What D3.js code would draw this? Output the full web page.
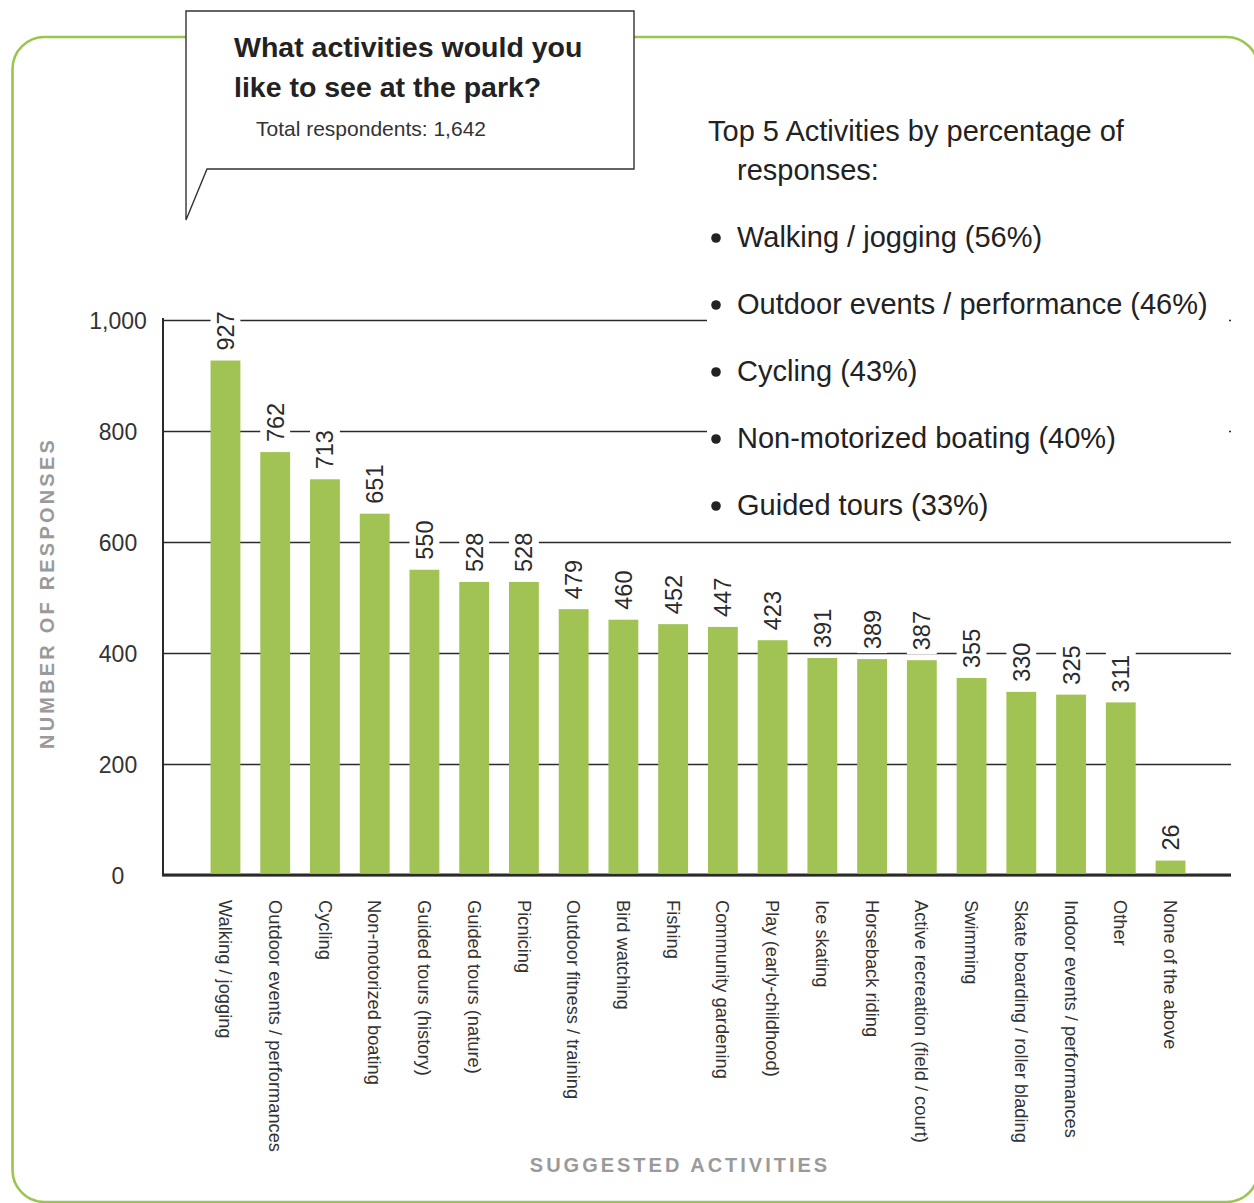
<!DOCTYPE html>
<html>
<head>
<meta charset="utf-8">
<script src="https://cdn.jsdelivr.net/npm/d3@7"></script>
<style>
  html, body { margin: 0; padding: 0; background: #fff; }
  svg { display: block; font-family: "Liberation Sans", Arial, Helvetica, sans-serif; }
</style>
</head>
<body>
<svg id="chart" width="1254" height="1203"></svg>
<script>
const categories = [
  "Walking / jogging", "Outdoor events / performances", "Cycling", "Non-motorized boating",
  "Guided tours (history)", "Guided tours (nature)", "Picnicing", "Outdoor fitness / training",
  "Bird watching", "Fishing", "Community gardening", "Play (early-childhood)", "Ice skating",
  "Horseback riding", "Active recreation (field / court)", "Swimming",
  "Skate boarding / roller blading", "Indoor events / performances", "Other", "None of the above"
];
const values = [927, 762, 713, 651, 550, 528, 528, 479, 460, 452, 447, 423, 391, 389, 387, 355, 330, 325, 311, 26];
const yTicks = [0, 200, 400, 600, 800, 1000];
const titleLines = ["What activities would you", "like to see at the park?"];
const subtitle = "Total respondents: 1,642";
const legendTitle = ["Top 5 Activities by percentage of", "responses:"];
const top5 = [
  "Walking / jogging (56%)", "Outdoor events / performance (46%)", "Cycling (43%)",
  "Non-motorized boating (40%)", "Guided tours (33%)"
];
const yAxisTitle = "NUMBER OF RESPONSES";
const xAxisTitle = "SUGGESTED ACTIVITIES";

(function () {
const svg = d3.select("#chart");
const GREEN = "#a0c353";
const INK = "#2a2a2a";

// outer rounded border
svg.append("rect")
  .attr("x", 12.5).attr("y", 37).attr("width", 1246).attr("height", 1165)
  .attr("rx", 32).attr("ry", 32)
  .attr("fill", "none").attr("stroke", "#9cc54f").attr("stroke-width", 2.6);

// plot geometry
const pLeft = 163, pRight = 1231, pTop = 320, pBottom = 875;
const y = d3.scaleLinear().domain([0, 1000]).range([pBottom, pTop]);
const x = d3.scaleBand().domain(categories).range([200.6, 1195.4]).paddingInner(0.4).paddingOuter(0.2);

// gridlines + tick labels via axis
const yAxis = d3.axisLeft(y).tickValues(yTicks).tickFormat(d3.format(",")).tickSize(-(pRight - pLeft)).tickPadding(0);
const gy = svg.append("g").attr("transform", `translate(${pLeft},0)`).call(yAxis);
gy.select(".domain").remove();
gy.selectAll(".tick line").attr("stroke", INK).attr("stroke-width", 1.3);
gy.selectAll(".tick text")
  .attr("x", 118 - pLeft).attr("text-anchor", "middle").attr("dy", "0.35em")
  .attr("font-size", 23).attr("fill", "#333")
  .attr("font-family", "'Liberation Sans', Arial, sans-serif");

// legend background hides gridlines
svg.append("rect").attr("x", 707).attr("y", 100).attr("width", 522).attr("height", 430).attr("fill", "#fff");

// y axis line and baseline
svg.append("line").attr("x1", pLeft).attr("x2", pLeft).attr("y1", pTop - 2).attr("y2", pBottom)
  .attr("stroke", INK).attr("stroke-width", 2);
svg.append("line").attr("x1", pLeft - 1).attr("x2", pRight).attr("y1", pBottom).attr("y2", pBottom)
  .attr("stroke", INK).attr("stroke-width", 3);

// bars
svg.append("g").selectAll("rect").data(values).join("rect")
  .attr("x", (d, i) => x(categories[i]))
  .attr("y", d => y(d))
  .attr("width", x.bandwidth())
  .attr("height", d => pBottom - 1.5 - y(d))
  .attr("fill", GREEN);

// value labels with white backgrounds
const lg = svg.append("g");
values.forEach((v, i) => {
  const cx = x(categories[i]) + x.bandwidth() / 2;
  const y0 = y(v) - 10;
  const bg = lg.append("rect").attr("fill", "#fff");
  const t = lg.append("text")
    .attr("transform", `translate(${cx},${y0}) rotate(-90)`)
    .attr("dy", "0.36em")
    .attr("font-size", 23.5).attr("fill", INK)
    .text(v);
  const w = t.node().getComputedTextLength();
  bg.attr("x", x(categories[i])).attr("width", x.bandwidth())
    .attr("y", y0 - w - 5).attr("height", w + 9);
});

// category labels
svg.append("g").selectAll("text").data(categories).join("text")
  .attr("transform", d => `translate(${x(d) + x.bandwidth() / 2},900) rotate(90)`)
  .attr("dy", "0.35em")
  .attr("font-size", 18.3).attr("fill", "#333")
  .text(d => d);

// axis titles
svg.append("text")
  .attr("transform", `translate(47,593) rotate(-90)`)
  .attr("text-anchor", "middle").attr("dy", "0.35em")
  .attr("font-size", 20).attr("font-weight", "bold").attr("letter-spacing", 3.2)
  .attr("fill", "#9a9a9a").text(yAxisTitle);
svg.append("text")
  .attr("x", 680).attr("y", 1172).attr("text-anchor", "middle")
  .attr("font-size", 20).attr("font-weight", "bold").attr("letter-spacing", 3)
  .attr("fill", "#9a9a9a").text(xAxisTitle);

// callout box
svg.append("path")
  .attr("d", "M186,11 L634,11 L634,169 L207,169 L186,220 Z")
  .attr("fill", "#fff").attr("stroke", "#333").attr("stroke-width", 1.4);
svg.append("g").selectAll("text").data(titleLines).join("text")
  .attr("x", 234).attr("y", (d, i) => 57 + i * 40)
  .attr("font-size", 28.5).attr("font-weight", "bold").attr("fill", "#222")
  .text(d => d);
svg.append("text").attr("x", 256).attr("y", 136)
  .attr("font-size", 21).attr("fill", "#333").text(subtitle);

// legend text
svg.append("text").attr("x", 708).attr("y", 141).attr("font-size", 29).attr("fill", "#222").text(legendTitle[0]);
svg.append("text").attr("x", 737).attr("y", 180).attr("font-size", 29).attr("fill", "#222").text(legendTitle[1]);
const leg = svg.append("g").selectAll("g").data(top5).join("g")
  .attr("transform", (d, i) => `translate(0,${247 + i * 67})`);
leg.append("circle").attr("cx", 716).attr("cy", -9).attr("r", 4.8).attr("fill", "#222");
leg.append("text").attr("x", 737).attr("y", 0).attr("font-size", 29).attr("fill", "#222").text(d => d);
})();
</script>
</body>
</html>
